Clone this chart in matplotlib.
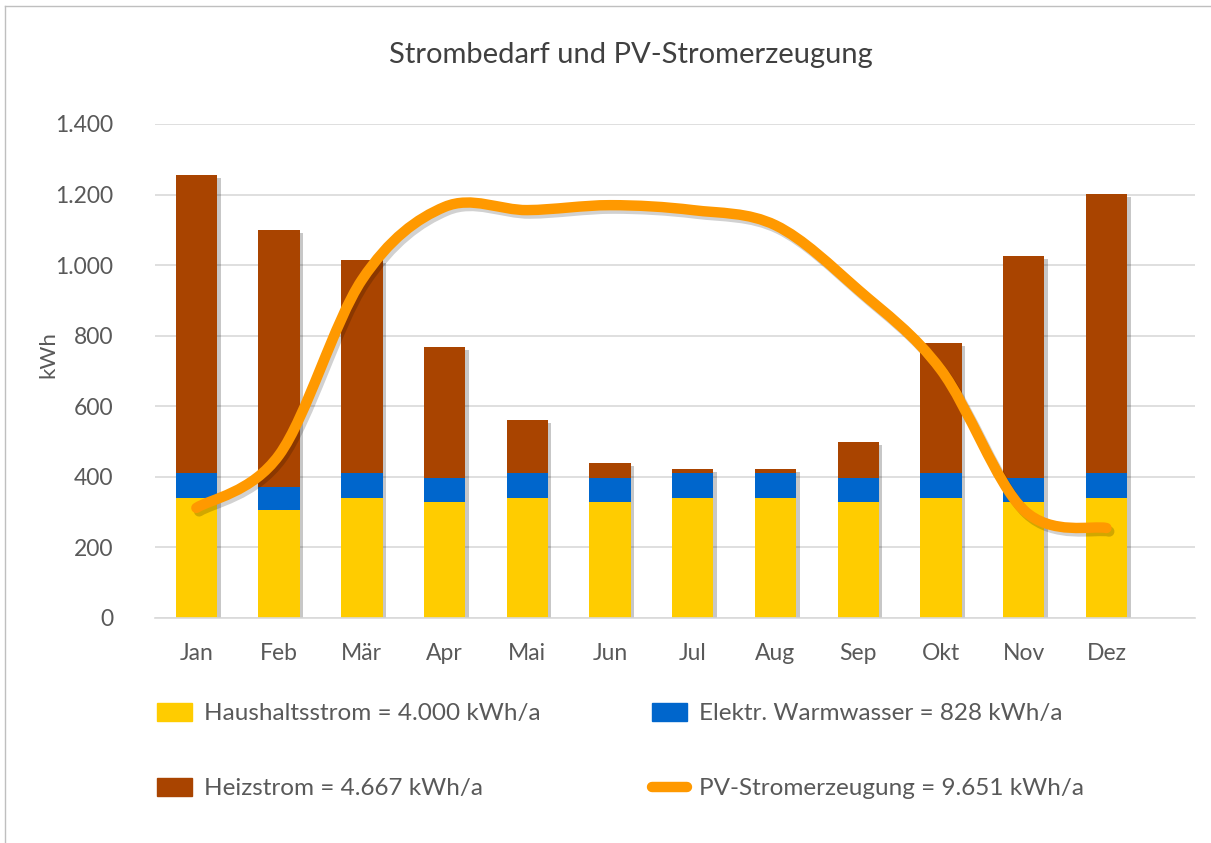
import matplotlib.pyplot as plt
import matplotlib.patheffects as pe
from matplotlib.path import Path
from matplotlib.patches import PathPatch
from matplotlib.lines import Line2D
from matplotlib.ticker import FuncFormatter
import numpy as np

plt.rcParams['font.family'] = ['Lato', 'DejaVu Sans']

# Monatswerte in kWh
months = ['Jan', 'Feb', 'Mär', 'Apr', 'Mai', 'Jun', 'Jul', 'Aug', 'Sep', 'Okt', 'Nov', 'Dez']
haushalt = [340, 307, 340, 330, 340, 330, 340, 340, 330, 340, 330, 340]
warmwasser = [70, 63, 70, 68, 70, 68, 70, 70, 68, 70, 68, 70]
heizstrom = [845, 730, 605, 370, 150, 42, 12, 12, 100, 370, 627, 792]
pv = [312, 462, 958, 1165, 1156, 1170, 1156, 1113, 930, 703, 306, 255]

labels = ['Haushaltsstrom = 4.000 kWh/a', 'Elektr. Warmwasser = 828 kWh/a',
          'Heizstrom = 4.667 kWh/a', 'PV-Stromerzeugung = 9.651 kWh/a']

c_yellow = '#FFCC00'
c_blue = '#0066CC'
c_brown = '#A94400'
c_orange = '#FF9900'
c_text = '#595959'

fig = plt.figure(figsize=(12.11, 8.43), dpi=100)
ax = fig.add_axes([155 / 1211, 1 - 618 / 843, 1040 / 1211, 494 / 843])

x = np.arange(len(months))
total = np.array(haushalt) + np.array(warmwasser) + np.array(heizstrom)
# Schatten fuer den ganzen Stapel
back = ax.bar(x, total, 0.5, color='white', zorder=1.5)
for r in back:
    r.set_path_effects([pe.SimplePatchShadow(offset=(2.5, -2), alpha=0.22,
                                             shadow_rgbFace='black'), pe.Normal()])
ax.bar(x, haushalt, 0.5, color=c_yellow, zorder=2)
ax.bar(x, warmwasser, 0.5, bottom=haushalt, color=c_blue, zorder=2)
bottom2 = np.array(haushalt) + np.array(warmwasser)
ax.bar(x, heizstrom, 0.5, bottom=bottom2, color=c_brown, zorder=2)

# geglättete Linie (Catmull-Rom -> Bezier, wie bei Excel)
xs = x.astype(float)
ys = np.array(pv, dtype=float)
verts = [(xs[0], ys[0])]
codes = [Path.MOVETO]
n = len(xs)
for i in range(n - 1):
    p0 = (xs[max(i - 1, 0)], ys[max(i - 1, 0)])
    p1 = (xs[i], ys[i])
    p2 = (xs[i + 1], ys[i + 1])
    p3 = (xs[min(i + 2, n - 1)], ys[min(i + 2, n - 1)])
    c1 = (p1[0] + (p2[0] - p0[0]) / 6, p1[1] + (p2[1] - p0[1]) / 6)
    c2 = (p2[0] - (p3[0] - p1[0]) / 6, p2[1] - (p3[1] - p1[1]) / 6)
    verts += [c1, c2, p2]
    codes += [Path.CURVE4] * 3
line = PathPatch(Path(verts, codes), facecolor='none', edgecolor=c_orange,
                 lw=7.5, capstyle='round', joinstyle='round', zorder=3)
line.set_path_effects([pe.SimpleLineShadow(offset=(2, -2.5), alpha=0.18), pe.Normal()])
ax.add_patch(line)

ax.set_xlim(-0.5, 12.07)
ax.set_ylim(0, 1400)
ax.set_yticks(range(0, 1401, 200))
ax.yaxis.set_major_formatter(FuncFormatter(lambda v, p: f'{int(v):,}'.replace(',', '.')))
ax.set_xticks(x)
ax.set_xticklabels(months)
ax.tick_params(length=0, labelsize=16.5, colors=c_text)
ax.tick_params(axis='x', pad=18)
ax.tick_params(axis='y', pad=30)
ax.grid(axis='y', color='#D9D9D9', lw=1.2, zorder=0)
ax.set_axisbelow(True)
for s in ('top', 'right', 'left'):
    ax.spines[s].set_visible(False)
ax.spines['bottom'].set_color('#D9D9D9')
ax.spines['bottom'].set_linewidth(1.2)

fig.text(48 / 1211, 1 - 355 / 843, 'kWh', rotation=90, ha='center', va='center',
         fontsize=16, color=c_text)
fig.text(631 / 1211, 1 - 55 / 843, 'Strombedarf und PV-Stromerzeugung', ha='center',
         va='center', fontsize=21, color='#404040')

# Legende: zwei Spalten, jeweils eigene Legende
leg_kw = dict(loc='upper left', frameon=False, fontsize=17.5, labelcolor=c_text,
              handlelength=1.45, handleheight=0.75, labelspacing=2.2, handletextpad=0.5,
              borderaxespad=0, borderpad=0)
h1 = [plt.Rectangle((0, 0), 1, 1, color=c_yellow),
      plt.Rectangle((0, 0), 1, 1, color=c_brown)]
h2 = [plt.Rectangle((0, 0), 1, 1, color=c_blue),
      Line2D([0], [0], color=c_orange, lw=7.5, solid_capstyle='round')]
leg1 = fig.legend(h1, [labels[0], labels[2]], bbox_to_anchor=(157 / 1211, 1 - 703 / 843), **leg_kw)
leg2 = fig.legend(h2, [labels[1], labels[3]], bbox_to_anchor=(652 / 1211, 1 - 703 / 843), **leg_kw)

# Rahmen links und oben
fig.add_artist(Line2D([5 / 1211, 5 / 1211], [0, 1 - 6 / 843], color='#BFBFBF', lw=1))
fig.add_artist(Line2D([5 / 1211, 1], [1 - 6 / 843, 1 - 6 / 843], color='#BFBFBF', lw=1))

fig.savefig('out.png', dpi=100)
